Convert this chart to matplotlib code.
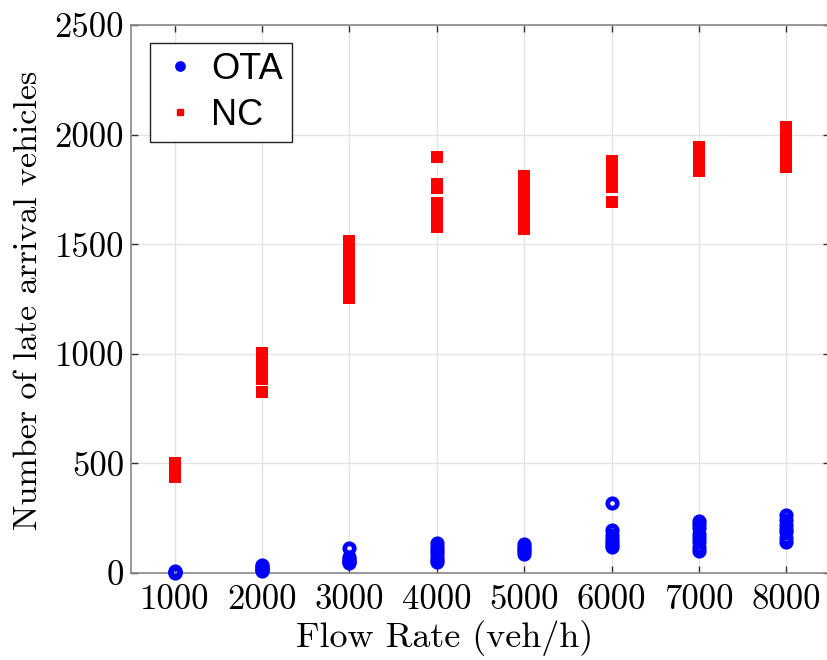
import matplotlib
matplotlib.use("Agg")
import matplotlib.pyplot as plt
from matplotlib.lines import Line2D

# Flow rates (veh/h)
flow_rates = [1000, 2000, 3000, 4000, 5000, 6000, 7000, 8000]

# Number of late arrival vehicles per run, OTA
ota_1000 = [0, 3, 5, 8]
ota_2000 = [10, 15, 20, 25, 30, 35]
ota_3000 = [114, 75, 65, 55, 50, 45]
ota_4000 = [137, 120, 105, 90, 75, 60, 49]
ota_5000 = [131, 120, 110, 100, 87]
ota_6000 = [321, 198, 175, 155, 140, 128, 119]
ota_7000 = [236, 222, 205, 180, 160, 140, 120, 99]
ota_8000 = [266, 240, 220, 200, 185, 160, 140]

# Number of late arrival vehicles per run, NC
nc_1000 = [440, 455, 470, 485, 500]
nc_2000 = [828, 883, 900, 920, 945, 970, 1002]
nc_3000 = [1515, 1495, 1470, 1440, 1386, 1350, 1320, 1290, 1256]
nc_4000 = [1900, 1775, 1755, 1688, 1660, 1640, 1610, 1580]
nc_5000 = [1811, 1790, 1760, 1720, 1690, 1650, 1620, 1590, 1571]
nc_6000 = [1880, 1860, 1830, 1800, 1775, 1760, 1692]
nc_7000 = [1942, 1920, 1890, 1860, 1834]
nc_8000 = [2033, 2000, 1970, 1940, 1908, 1850]

ota_runs = [ota_1000, ota_2000, ota_3000, ota_4000, ota_5000, ota_6000, ota_7000, ota_8000]
nc_runs = [nc_1000, nc_2000, nc_3000, nc_4000, nc_5000, nc_6000, nc_7000, nc_8000]

x_ticks = [1000, 2000, 3000, 4000, 5000, 6000, 7000, 8000]
y_ticks = [0, 500, 1000, 1500, 2000, 2500]

plt.rcParams['axes.formatter.use_mathtext'] = True

fig = plt.figure(figsize=(8.27, 6.6), dpi=100)
ax = fig.add_axes([131 / 827, 87 / 660, 699 / 827, 548 / 660])

ota_x, ota_y, nc_x, nc_y = [], [], [], []
for fr, runs in zip(flow_rates, ota_runs):
    ota_x += [fr] * len(runs)
    ota_y += runs
for fr, runs in zip(flow_rates, nc_runs):
    nc_x += [fr] * len(runs)
    nc_y += runs

ax.plot(nc_x, nc_y, linestyle='none', marker='s', markersize=8.2,
        markerfacecolor='#ff0000', markeredgecolor='#ff0000', markeredgewidth=0,
        clip_on=False, zorder=3)
ax.plot(ota_x, ota_y, linestyle='none', marker='o', markersize=6.8,
        markerfacecolor='none', markeredgecolor='#0000ff', markeredgewidth=3.4,
        clip_on=False, zorder=4)

ax.set_xlim(500, 8500)
ax.set_ylim(0, 2500)
ax.set_xticks(x_ticks)
ax.set_yticks(y_ticks)

tick_font = dict(family='cmr10', size=25)
ax.set_xticklabels([str(v) for v in x_ticks], fontdict=tick_font)
ax.set_yticklabels([str(v) for v in y_ticks], fontdict=tick_font)

ax.tick_params(axis='both', direction='in', length=5, width=1, color='#333333',
               top=True, right=True)
ax.tick_params(axis='x', pad=8)
ax.tick_params(axis='y', pad=5)

for s in ax.spines.values():
    s.set_color('#888888')
    s.set_linewidth(1.2)

ax.grid(True, color='#e3e3e3', linewidth=1)
ax.set_axisbelow(True)

ax.set_xlabel('Flow Rate (veh/h)', family='cmr10', size=26)
ax.xaxis.set_label_coords((444.5 - 131) / 699, (573 - 620) / 548)
ax.set_ylabel('Number of late arrival vehicles', family='cmr10', size=24.5)
ax.yaxis.set_label_coords((43 - 131) / 699, (573 - 300) / 548)

handles = [
    Line2D([], [], linestyle='none', marker='o', markersize=6.7, color='#0000ff'),
    Line2D([], [], linestyle='none', marker='s', markersize=4.8, color='#ff0000'),
]
leg = ax.legend(handles, ['OTA', 'NC'], loc='upper left',
                bbox_to_anchor=(19 / 699, 530 / 548), borderaxespad=0,
                prop=dict(family='Liberation Sans', size=26),
                fancybox=False, framealpha=1, edgecolor='#222222',
                handlelength=1.17, handletextpad=0.28, borderpad=0.25,
                labelspacing=0.3)
leg.get_frame().set_linewidth(1)

fig.savefig('out.png', dpi=100)
